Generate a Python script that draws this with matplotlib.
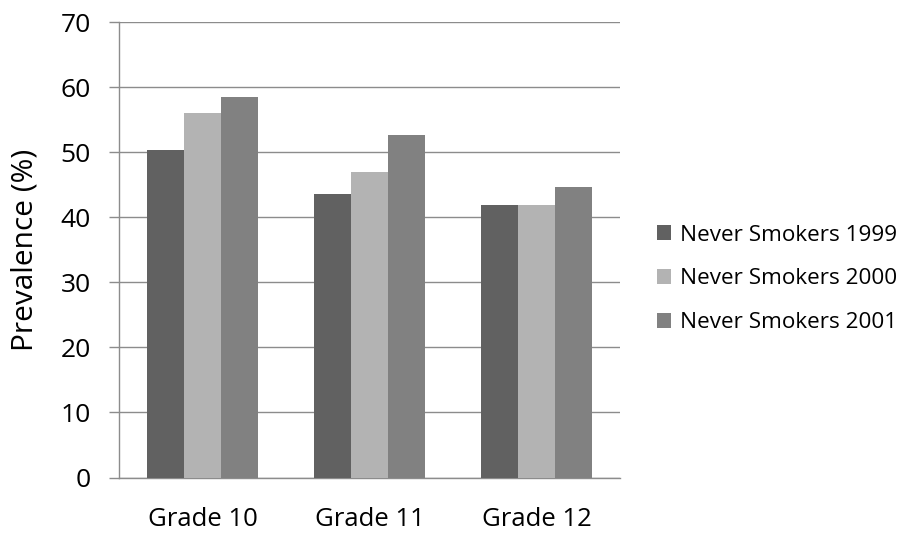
import matplotlib
matplotlib.use("Agg")
import matplotlib.pyplot as plt
import numpy as np

categories = ["Grade 10", "Grade 11", "Grade 12"]
series_names = ["Never Smokers 1999", "Never Smokers 2000", "Never Smokers 2001"]
values_1999 = [50.3, 43.6, 41.9]
values_2000 = [56.0, 47.0, 41.9]
values_2001 = [58.4, 52.6, 44.7]
y_ticks = [0, 10, 20, 30, 40, 50, 60, 70]

colors = ["#616161", "#b3b3b3", "#818181"]
grid_color = "#8c8c8c"

plt.rcParams["font.family"] = ["Open Sans", "DejaVu Sans"]

fig = plt.figure(figsize=(9, 5.35), dpi=100)
ax = fig.add_axes([119 / 900, 1 - 477.5 / 535, (620 - 119) / 900, (477.5 - 22) / 535])

x = np.arange(len(categories))
width = 0.222
for i, (vals, name, col) in enumerate(zip([values_1999, values_2000, values_2001], series_names, colors)):
    ax.bar(x + (i - 1) * width, vals, width, color=col, label=name, zorder=3)

ax.set_xlim(-0.5, len(categories) - 0.5)
ax.set_ylim(0, 70)
ax.set_yticks(y_ticks)
ax.set_xticks(x)
ax.set_xticklabels(categories, fontsize=18.5)
ax.tick_params(axis="y", direction="out", length=7.5, width=1, color=grid_color, labelsize=19, pad=13)
ax.tick_params(axis="x", length=0, pad=21)
ax.yaxis.grid(True, color=grid_color, linewidth=1, zorder=0)
ax.set_axisbelow(True)

for side in ["top", "right"]:
    ax.spines[side].set_visible(False)
for side in ["left", "bottom"]:
    ax.spines[side].set_color(grid_color)
    ax.spines[side].set_linewidth(1)

ax.set_ylabel("Prevalence (%)", fontsize=21.5)
ax.yaxis.set_label_coords(-0.158, 0.5)

fig.legend(loc="center left", bbox_to_anchor=(657 / 900, 1 - 279 / 535), frameon=False,
           borderpad=0, borderaxespad=0, fontsize=16.2, handlelength=0.62, handleheight=0.62,
           handletextpad=0.4, labelspacing=1.02)

fig.savefig("out.png", dpi=100)
